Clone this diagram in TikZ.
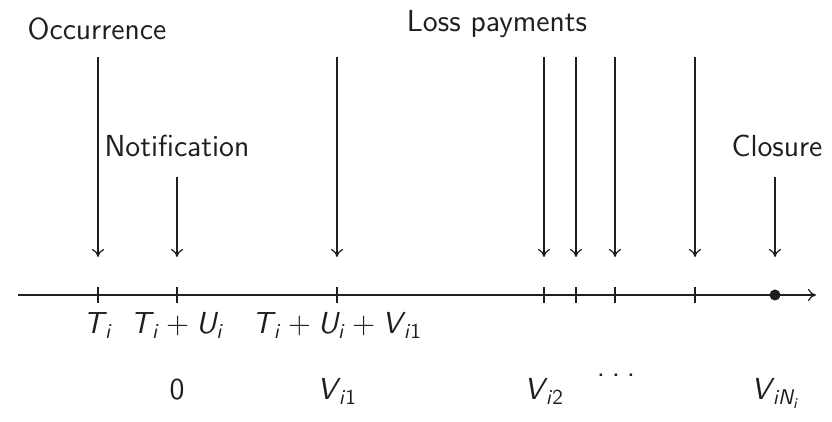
\documentclass[tikz,border=0pt]{standalone}
\usetikzlibrary{arrows.meta}
\definecolor{ink}{RGB}{30,30,30}
\newcommand{\symb}[3][]{\textsl{#2}\kern-0.06em\textsubscript{\textsl{#3}#1}}
\newcommand{\plus}{\hspace{0.22em}+\hspace{0.22em}}

\begin{document}
\begin{tikzpicture}[x=0.5pt,y=-0.5pt,font=\fontsize{15.2}{18}\selectfont\sffamily,line width=0.6pt,lbl/.style={anchor=base,inner sep=0pt,text=ink},arr/.style={-{To[length=4pt,width=6pt]},draw=ink}]
\useasboundingbox (0,0) rectangle (832,422);
\coordinate (top) at (0,57); \coordinate (mid) at (0,177); \coordinate (tip) at (0,257);
\coordinate (start) at (18,295); \coordinate (end) at (816,295);
\foreach \name/\x in {occ/98,notif/177,pay1/337,pay2/544,pay3/576,pay4/615,pay5/695,close/775} \coordinate (\name) at (\x,295);
% axis and ticks
\draw[arr] (start) -- (end);
\foreach \name in {occ,notif,pay1,pay2,pay3,pay4,pay5} \draw[ink] (\name) ++(0,-8) -- ++(0,16);
\fill[ink] (close) circle (5.5);
% events
\node[lbl] (occlbl) at (97,40) {Occurrence};
\node[lbl] (notiflbl) at (177,157) {Notification};
\node[lbl] (paylbl) at (497,32) {Loss payments};
\node[lbl] (closelbl) at (777,157) {Closure};
\draw[arr] (occ |- top) -- (occ |- tip); \draw[arr] (notif |- mid) -- (notif |- tip); \draw[arr] (close |- mid) -- (close |- tip);
\foreach \name in {pay1,pay2,pay3,pay4,pay5} \draw[arr] (\name |- top) -- (\name |- tip);
% calendar times
\node[lbl] (ti) at (98,334) {\symb{T}{i}};
\node[lbl] (tiui) at (177,334) {\symb{T}{i}\plus\symb{U}{i}};
\node[lbl] (tiuivi) at (337,334) {\symb{T}{i}\plus\symb{U}{i}\plus\symb[1]{V}{i}};
% development times
\node[lbl] (zero) at (177,400) {0};
\node[lbl] (vione) at (337,400) {\symb[1]{V}{i}};
\node[lbl] (vitwo) at (544,400) {\symb[2]{V}{i}};
\node[lbl] (dots) at (616,377) {.\hspace{0.22em}.\hspace{0.22em}.};
\node[lbl] (vin) at (775,400) {\symb{V}{iN\textsubscript{i}}};
\end{tikzpicture}
\end{document}
